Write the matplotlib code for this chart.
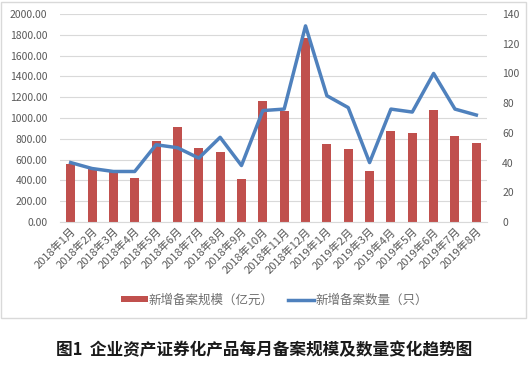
import matplotlib.pyplot as plt
import numpy as np
from matplotlib.patches import Rectangle

plt.rcParams['font.family'] = ['Noto Sans CJK SC', 'DejaVu Sans']

months = ['2018年1月', '2018年2月', '2018年3月', '2018年4月', '2018年5月', '2018年6月',
          '2018年7月', '2018年8月', '2018年9月', '2018年10月', '2018年11月', '2018年12月',
          '2019年1月', '2019年2月', '2019年3月', '2019年4月', '2019年5月', '2019年6月',
          '2019年7月', '2019年8月']
scale = [554, 522, 484, 426, 776, 917, 708, 670, 413, 1160, 1067, 1772,
         750, 699, 490, 872, 856, 1074, 827, 763]
count = [40, 36, 34, 34, 52, 50, 43, 57, 38, 75, 76, 132,
         85, 77, 40, 76, 74, 100, 76, 72]
left_ticks = [0, 200, 400, 600, 800, 1000, 1200, 1400, 1600, 1800, 2000]
right_ticks = [0, 20, 40, 60, 80, 100, 120, 140]

red = '#C0504D'
blue = '#4F81BD'
gray = '#595959'

fig = plt.figure(figsize=(5.28, 3.66), dpi=100)
# chart border
fig.patches.append(Rectangle((1 / 528, 1 - 318 / 366), 525 / 528, 316 / 366,
                             transform=fig.transFigure, fill=False,
                             edgecolor='#D9D9D9', linewidth=1))

ax = fig.add_axes([60 / 528, 1 - 222 / 366, 427 / 528, 208 / 366])
x = np.arange(len(months))
ax.bar(x, scale, width=0.42, color=red, label='新增备案规模（亿元）', zorder=2)
ax.set_ylim(0, 2000)
ax.set_xlim(-0.5, len(months) - 0.5)
ax.set_yticks(left_ticks)
ax.set_yticklabels(['%.2f' % v for v in left_ticks], fontsize=7.5, color=gray)
ax.grid(axis='y', color='#D9D9D9', linewidth=0.8, zorder=0)
ax.set_axisbelow(True)
for s in ['top', 'right', 'left']:
    ax.spines[s].set_visible(False)
ax.spines['bottom'].set_color('#D9D9D9')
ax.tick_params(axis='y', length=0, pad=9)
ax.tick_params(axis='x', length=0, pad=3)
ax.set_xticks(x)
ax.set_xticklabels(months, rotation=45, ha='right', rotation_mode='anchor',
                   fontsize=8, color=gray)

ax2 = ax.twinx()
ax2.plot(x, count, color=blue, linewidth=2.5, label='新增备案数量（只）', zorder=3)
ax2.set_ylim(0, 140)
ax2.set_yticks(right_ticks)
ax2.set_yticklabels([str(v) for v in right_ticks], fontsize=7.5, color=gray)
ax2.tick_params(length=0, pad=11)
for s in ['top', 'right', 'left', 'bottom']:
    ax2.spines[s].set_visible(False)

h1, l1 = ax.get_legend_handles_labels()
h2, l2 = ax2.get_legend_handles_labels()
fig.legend(h1 + h2, l1 + l2, loc='center left', bbox_to_anchor=(110 / 528, 1 - 300 / 366),
           ncol=2, frameon=False, fontsize=9, labelcolor='#6f6f6f',
           handlelength=2.1, handleheight=0.4, columnspacing=1.15, handletextpad=0.1)

fig.text(0.5, 1 - 350 / 366, '图1  企业资产证券化产品每月备案规模及数量变化趋势图',
         ha='center', va='center', fontsize=12, fontweight='bold', color='#1a1a1a')

fig.savefig('out.png', dpi=100)
